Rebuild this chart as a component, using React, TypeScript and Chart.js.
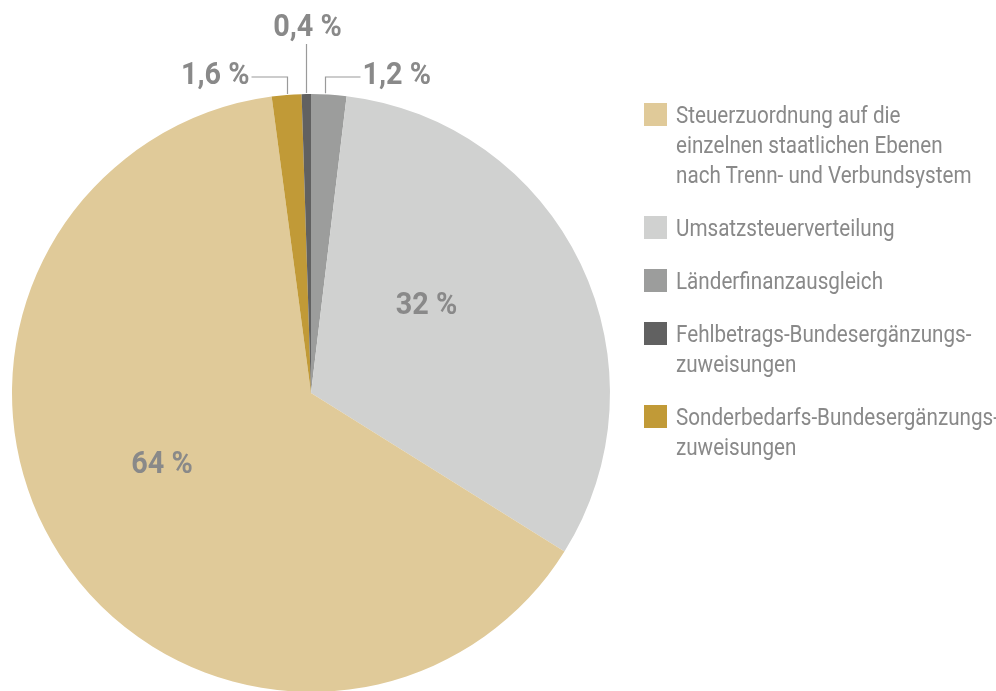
import React, { useEffect, useRef } from "react";
import { Chart, registerables } from "chart.js";

Chart.register(...registerables);

// Slices in drawing order (clockwise from 12 o'clock)
const categories = [
  "Länderfinanzausgleich",
  "Umsatzsteuerverteilung",
  "Steuerzuordnung auf die\neinzelnen staatlichen Ebenen\nnach Trenn- und Verbundsystem",
  "Sonderbedarfs-Bundesergänzungs-\nzuweisungen",
  "Fehlbetrags-Bundesergänzungs-\nzuweisungen",
];
// slice sizes (percent)
const sliceValues = [1.9, 32, 64, 1.6, 0.5];
// printed value labels
const valueLabels = ["1,2 %", "32 %", "64 %", "1,6 %", "0,4 %"];
const sliceColors = ["#9C9D9C", "#D0D1D0", "#E0CA99", "#C19A37", "#616161"];
// legend order (indices into the arrays above)
const legendOrder = [2, 1, 0, 4, 3];

const TEXT = "#898989";
const LINE = "#9a9a9a";
const LABEL_FONT = "bold 32px 'Roboto', sans-serif";
const LABEL_SX = 0.9;
const LEGEND_FONT = "'Roboto', sans-serif";

const labelPlugin = {
  id: "pieLabels",
  afterDatasetsDraw(chart: any) {
    const meta = chart.getDatasetMeta(0);
    const ctx = chart.ctx as CanvasRenderingContext2D;
    ctx.save();
    ctx.font = LABEL_FONT;
    ctx.fillStyle = TEXT;
    ctx.textBaseline = "alphabetic";
    ctx.strokeStyle = LINE;
    ctx.lineWidth = 1.2;

    const arcs = meta.data as any[];
    const cx = arcs[0].x;
    const cy = arcs[0].y;
    const r = arcs[0].outerRadius;

    const text = (s: string, x: number, y: number, align: CanvasTextAlign) => {
      ctx.save();
      ctx.translate(x, y);
      ctx.scale(LABEL_SX, 1);
      ctx.textAlign = align;
      ctx.fillText(s, 0, 0);
      ctx.restore();
    };

    const rimAt = (i: number, frac: number) => {
      const a = arcs[i].startAngle + (arcs[i].endAngle - arcs[i].startAngle) * frac;
      return { x: cx + r * Math.cos(a), y: cy + r * Math.sin(a) };
    };

    // inner labels: angle (deg, clockwise from top) and radius fraction
    const inner: [number, number, number][] = [
      [1, 52, 0.49],
      [2, 245, 0.55],
    ];
    inner.forEach(([i, deg, rf]) => {
      const a = (deg - 90) * Math.PI / 180;
      const x = cx + r * rf * Math.cos(a);
      const y = cy + r * rf * Math.sin(a);
      text(valueLabels[i], x, y + 11, "center");
    });

    const elbowY = cy - r - 17;
    // Länderfinanzausgleich (index 0) -> right
    {
      const p = rimAt(0, 0.38);
      const x = Math.round(p.x) + 0.5;
      ctx.beginPath();
      ctx.moveTo(x, p.y - 1);
      ctx.lineTo(x, elbowY);
      ctx.lineTo(x + 35, elbowY);
      ctx.stroke();
      text(valueLabels[0], x + 37, elbowY + 7, "left");
    }
    // Sonderbedarfs (index 3) -> left
    {
      const p = rimAt(3, 0.5);
      const x = Math.round(p.x) + 0.5;
      ctx.beginPath();
      ctx.moveTo(x, p.y - 1);
      ctx.lineTo(x, elbowY);
      ctx.lineTo(x - 36, elbowY);
      ctx.stroke();
      text(valueLabels[3], x - 38, elbowY + 7, "right");
    }
    // Fehlbetrags (index 4) -> up
    {
      const p = rimAt(4, 0.5);
      const x = Math.round(p.x) + 0.5;
      ctx.beginPath();
      ctx.moveTo(x, p.y - 1);
      ctx.lineTo(x, cy - r - 50);
      ctx.stroke();
      text(valueLabels[4], x + 1, cy - r - 58, "center");
    }
    ctx.restore();
  },
};

export default function App() {
  const ref = useRef<HTMLCanvasElement | null>(null);

  useEffect(() => {
    document.body.style.margin = "0";
    document.body.style.overflow = "hidden";
    if (!ref.current) return;
    const chart = new Chart(ref.current, {
      type: "pie",
      data: {
        labels: categories,
        datasets: [
          {
            data: sliceValues,
            backgroundColor: sliceColors,
            borderWidth: 0,
          },
        ],
      },
      options: {
        responsive: false,
        animation: false,
        layout: { padding: { left: 12, right: 386, top: 94, bottom: 0 } },
        plugins: {
          legend: { display: false },
          tooltip: { enabled: false },
        },
      },
      plugins: [labelPlugin],
    });
    return () => chart.destroy();
  }, []);

  return (
    <div style={{ position: "relative", width: 996, height: 691, overflow: "hidden", background: "#fff" }}>
      <canvas ref={ref} width={996} height={692} style={{ position: "absolute", left: 0, top: 0 }} />
      <div
        style={{
          position: "absolute",
          left: 644,
          top: 100,
          width: 400,
          display: "flex",
          flexDirection: "column",
          gap: 23,
          fontFamily: LEGEND_FONT,
          fontSize: 24,
          lineHeight: "30px",
          color: TEXT,
        }}
      >
        {legendOrder.map((i) => (
          <div key={i} style={{ display: "flex", alignItems: "flex-start" }}>
            <div style={{ width: 23, height: 23, marginTop: 3, background: sliceColors[i], flex: "none" }} />
            <div
              style={{
                marginLeft: 9,
                whiteSpace: "pre",
                transform: "scaleX(0.86)",
                transformOrigin: "0 0",
              }}
            >
              {categories[i]}
            </div>
          </div>
        ))}
      </div>
    </div>
  );
}
